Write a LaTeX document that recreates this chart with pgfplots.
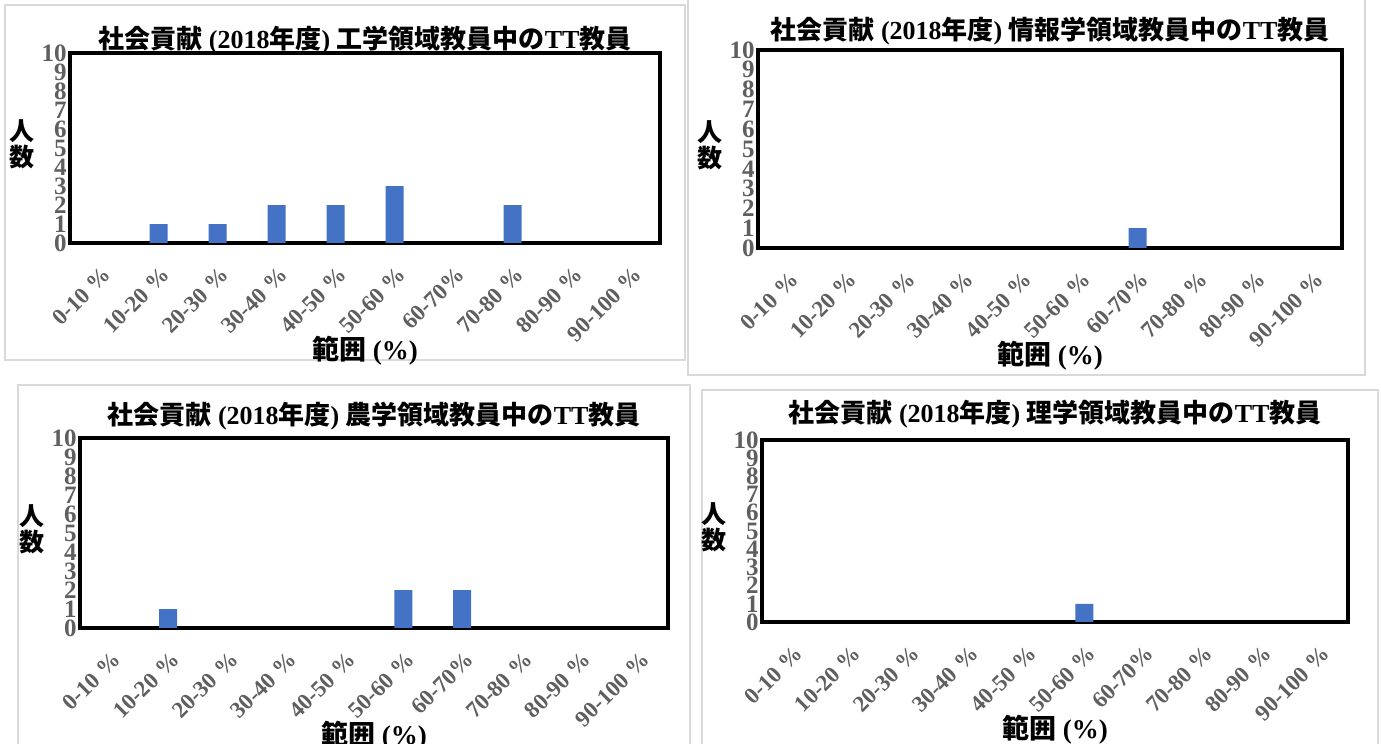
\documentclass[border=0pt]{standalone}
\usepackage{fontspec}
\usepackage{pgfplots}
\usepackage{pgfplotstable}
\pgfplotsset{compat=1.18}
\setmainfont{Liberation Serif}
\newfontfamily\jp{Noto Sans CJK JP}

\definecolor{barblue}{RGB}{68,114,196}
\definecolor{ticgray}{RGB}{95,95,95}
\definecolor{framegray}{RGB}{217,217,217}

% counts per 10 % bin
\pgfplotstableread{
x y
0 0
1 1
2 1
3 2
4 2
5 3
6 0
7 2
8 0
9 0
}\engdata
\pgfplotstableread{
x y
0 0
1 0
2 0
3 0
4 0
5 0
6 1
7 0
8 0
9 0
}\infdata
\pgfplotstableread{
x y
0 0
1 1
2 0
3 0
4 0
5 2
6 2
7 0
8 0
9 0
}\agrdata
\pgfplotstableread{
x y
0 0
1 0
2 0
3 0
4 0
5 1
6 0
7 0
8 0
9 0
}\scidata

\newcommand\ttl[1]{{\jp 社会貢献} (2018{\jp 年度}) {\jp #1領域教員中の}TT{\jp 教員}}

\pgfplotsset{
  panel/.style={
    scale only axis,
    anchor=south west,
    xmin=-0.5, xmax=9.5,
    ymin=0, ymax=10,
    xtick={0,...,9},
    xticklabels={0-10 \%,10-20 \%,20-30 \%,30-40 \%,40-50 \%,50-60 \%,60-70\%,70-80 \%,80-90 \%,90-100 \%},
    ytick={0,...,10},
    major tick length=0pt,
    axis line style={line width=2.2pt},
    /pgf/number format/assume math mode=true,
    yticklabel style={font=\bfseries\fontsize{12.5}{12.5}\selectfont, text=ticgray, inner sep=1.5pt},
    xticklabel style={font=\bfseries\fontsize{11.5}{11.5}\selectfont, text=ticgray, rotate=45, anchor=east, xshift=-4pt, yshift=-12.5pt},
    title style={font=\bfseries\fontsize{13}{13}\selectfont, at={(0.5,1)}, anchor=center},
    xlabel={{\jp 範囲} (\%)},
    xlabel style={font=\bfseries\fontsize{13.5}{13.5}\selectfont, at={(0.5,0)}, anchor=center, yshift=-54pt},
    ylabel={人\\数},
    ylabel style={font=\jp\bfseries\fontsize{12.5}{13}\selectfont, align=center, rotate=-90, at={(0,0.5)}, anchor=center, xshift=-24pt, yshift=2pt},
    clip=false,
  },
  bars/.style={ybar, bar width=9pt, fill=barblue, draw=none},
  baseline/.style={ticgray!80, line width=0.8pt, yshift=-1.5pt},
}

\begin{document}
\begin{tikzpicture}[x=0.5pt, y=-0.5pt]
\path[use as bounding box] (0,0) rectangle (1381,744);
\draw[framegray, line width=0.6pt] (5,5) rectangle (685,360);
\draw[framegray, line width=0.6pt] (688,-2) rectangle (1365,375);
\draw[framegray, line width=0.6pt] (18,385) rectangle (690,750);
\draw[framegray, line width=0.6pt] (702,390) rectangle (1378,750);
\coordinate (p1) at (70,243);
\coordinate (p2) at (758,248);
\coordinate (p3) at (80,628);
\coordinate (p4) at (762,622);

\begin{axis}[panel, at={(p1)}, width=295pt, height=95pt,
  title={\ttl{工学}}, title style={yshift=0.5pt}]
  \addplot[bars] table[x=x, y=y] {\engdata};
  \draw[baseline] (axis cs:-0.5,0) -- (axis cs:9.5,0);
\end{axis}

\begin{axis}[panel, at={(p2)}, width=292pt, height=99pt,
  title={\ttl{情報学}}, title style={yshift=3.5pt}]
  \addplot[bars] table[x=x, y=y] {\infdata};
  \draw[baseline] (axis cs:-0.5,0) -- (axis cs:9.5,0);
\end{axis}

\begin{axis}[panel, at={(p3)}, width=294pt, height=95pt,
  title={\ttl{農学}}, title style={yshift=5pt}]
  \addplot[bars] table[x=x, y=y] {\agrdata};
  \draw[baseline] (axis cs:-0.5,0) -- (axis cs:9.5,0);
\end{axis}

\begin{axis}[panel, at={(p4)}, width=293pt, height=91pt,
  title={\ttl{理学}}, title style={yshift=7pt}]
  \addplot[bars] table[x=x, y=y] {\scidata};
  \draw[baseline] (axis cs:-0.5,0) -- (axis cs:9.5,0);
\end{axis}
\end{tikzpicture}
\end{document}
